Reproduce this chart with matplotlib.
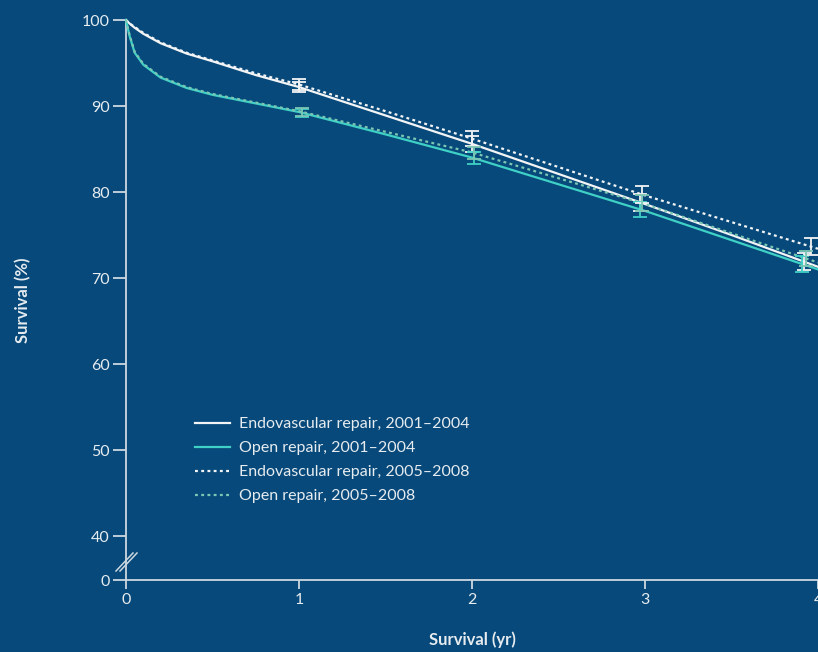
import numpy as np
import matplotlib
matplotlib.use("Agg")
import matplotlib.pyplot as plt
from matplotlib.lines import Line2D

# Follow-up time (years) and survival (%) for each cohort
years = [0, 0.02, 0.05, 0.1, 0.2, 0.35, 0.5, 0.75, 1, 1.5, 2, 2.5, 3, 3.5, 4]
endo_0104 = [100, 99.6, 99.1, 98.4, 97.3, 96.1, 95.2, 93.6, 92.2, 88.9, 85.6, 82.1, 78.6, 75.0, 71.3]
open_0104 = [100, 98.2, 96.2, 94.8, 93.3, 92.1, 91.3, 90.3, 89.3, 86.7, 84.0, 80.9, 77.8, 74.4, 71.0]
endo_0508 = [100, 99.6, 99.2, 98.5, 97.4, 96.2, 95.3, 93.8, 92.5, 89.4, 86.2, 82.9, 79.6, 76.5, 73.4]
open_0508 = [100, 98.3, 96.3, 94.9, 93.4, 92.2, 91.4, 90.4, 89.4, 87.0, 84.6, 81.6, 78.6, 75.2, 71.8]

# Confidence-interval bars at yearly marks (position and half-width)
ci_years_endo_0104 = [1.0, 2.0, 2.97, 3.92]
ci_half_endo_0104 = [0.6, 0.9, 1.0, 1.0]
ci_years_open_0104 = [1.02, 2.01, 2.97, 3.91]
ci_half_open_0104 = [0.45, 0.7, 0.9, 0.9]
ci_years_endo_0508 = [1.0, 2.0, 2.98, 3.96]
ci_half_endo_0508 = [0.6, 0.9, 1.0, 1.0]
ci_years_open_0508 = [1.02, 2.01, 2.98, 3.93]
ci_half_open_0508 = [0.45, 0.7, 0.9, 0.9]

labels = ["Endovascular repair, 2001\u20132004", "Open repair, 2001\u20132004",
          "Endovascular repair, 2005\u20132008", "Open repair, 2005\u20132008"]

y_ticks = [40, 50, 60, 70, 80, 90, 100]
x_ticks = [0, 1, 2, 3, 4]

BG = "#07497a"
WHITE = "#f2f4f5"
TEAL = "#3fd0c6"
TEAL_DOT = "#7cc6b4"
AXIS = "#cdd8e0"
TXT = "#e6ecf0"

plt.rcParams["font.family"] = ["Lato", "DejaVu Sans"]

fig = plt.figure(figsize=(8.18, 6.52), dpi=100, facecolor=BG)
W, H = 818, 652
px_per_unit = 8.6
y_zero = 40 - 44 / px_per_unit   # position of the broken-axis "0"
y_top = 101.0
top_px = 20 - (y_top - 100) * px_per_unit
ax = fig.add_axes([126 / W, 1 - 580 / H, 1 - 126 / W, (580 - top_px) / H])
ax.set_facecolor(BG)
ax.set_xlim(0, 4.0)
ax.set_ylim(y_zero, y_top)

dot = (0, (1.3, 1.5))
series = [
    (endo_0104, WHITE, "-", ci_years_endo_0104, ci_half_endo_0104),
    (open_0104, TEAL, "-", ci_years_open_0104, ci_half_open_0104),
    (endo_0508, WHITE, dot, ci_years_endo_0508, ci_half_endo_0508),
    (open_0508, TEAL_DOT, dot, ci_years_open_0508, ci_half_open_0508),
]
for vals, col, ls, cy, ch in series:
    ax.plot(years, vals, color=col, lw=1.6, ls=ls, clip_on=False, zorder=3)
    centers = np.interp(cy, years, vals)
    ax.errorbar(cy, centers, yerr=ch, fmt="none", ecolor=col, elinewidth=1.3,
                capsize=5, capthick=1.3, clip_on=False, zorder=4)

# axes styling
for s in ["top", "right"]:
    ax.spines[s].set_visible(False)
for s in ["left", "bottom"]:
    ax.spines[s].set_color(AXIS)
    ax.spines[s].set_linewidth(1.3)
ax.spines["left"].set_bounds(y_zero, 100)

ax.set_yticks([y_zero] + y_ticks)
ax.set_yticklabels(["0"] + [str(v) for v in y_ticks])
ax.set_xticks(x_ticks)
ax.set_xticklabels([str(v) for v in x_ticks])
ax.tick_params(axis="y", colors=AXIS, length=9.5, width=1.3, pad=2, labelsize=11.5,
               labelcolor=TXT)
ax.tick_params(axis="x", colors=AXIS, length=6.5, width=1.3, pad=3, labelsize=11.5,
               labelcolor=TXT)

# axis break marks
for dx in (0, 4):
    ax.add_line(Line2D([(116 + dx - 126) / 173, (133 + dx - 126) / 173],
                       [y_zero + (580 - 571) / px_per_unit, y_zero + (580 - 553) / px_per_unit],
                       color=AXIS, lw=1.1, clip_on=False, zorder=5))

fig.text(23 / W, 1 - 300 / H, "Survival (%)", rotation=90, ha="center", va="center",
         color=TXT, fontsize=12, fontweight="bold")
fig.text(472 / W, 1 - 640 / H, "Survival (yr)", ha="center", va="center",
         color=TXT, fontsize=12, fontweight="bold")

handles = [Line2D([], [], color=WHITE, lw=1.6),
           Line2D([], [], color=TEAL, lw=1.6),
           Line2D([], [], color=WHITE, lw=1.6, ls=dot),
           Line2D([], [], color=TEAL_DOT, lw=1.6, ls=dot)]
leg = ax.legend(handles, labels, loc="upper left", bbox_to_anchor=(0.09, 0.298),
                frameon=False, fontsize=11.5, handlelength=2.2, handletextpad=0.6,
                labelspacing=0.62, borderaxespad=0)
for t in leg.get_texts():
    t.set_color(TXT)

fig.savefig("out.png", dpi=100, facecolor=BG)
